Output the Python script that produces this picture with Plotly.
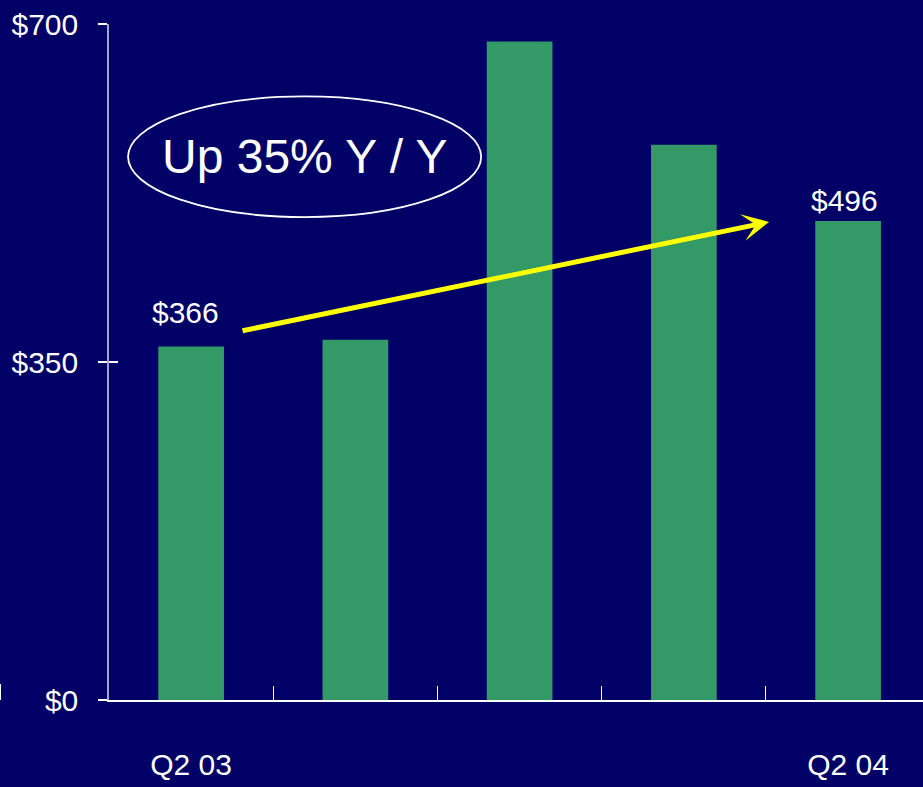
import plotly.graph_objects as go

# Quarterly revenue ($M)
quarters = ["Q2 03", "Q3 03", "Q4 03", "Q1 04", "Q2 04"]
revenue = [366, 373, 682, 575, 496]
shown_quarters = ["Q2 03", "", "", "", "Q2 04"]
value_labels = ["$366", "", "", "", "$496"]
y_tick_values = [0, 350, 700]
y_tick_text = ["$0", "$350", "$700"]
headline = "Up 35% Y / Y"

BG = "#000066"
BAR = "#339966"
NARROW = "Liberation Sans Narrow, Arial Narrow, Liberation Sans, Arial, sans-serif"
SANS = "Liberation Sans, Arial, sans-serif"
LABEL_SIZE = 30

xpos = list(range(len(quarters)))
boundaries = [i - 0.5 for i in range(len(quarters) + 1)]

fig = go.Figure()
fig.add_trace(go.Bar(x=xpos, y=revenue, width=0.4, marker=dict(color=BAR, line=dict(width=0)),
                     hovertext=quarters, showlegend=False))
# helper trace so the overlay axes get drawn
fig.add_trace(go.Scatter(x=[xpos[0]], y=[revenue[0]], xaxis="x2", yaxis="y2", mode="markers",
                         marker=dict(opacity=0), showlegend=False, hoverinfo="skip"))

x_range = [-0.5, 4.456]
fig.update_layout(
    width=923, height=787,
    margin=dict(l=109, r=0, t=24, b=87),
    paper_bgcolor=BG, plot_bgcolor=BG,
    font=dict(family=NARROW, color="white", size=LABEL_SIZE),
    xaxis=dict(range=x_range, tickmode="array", tickvals=boundaries, ticktext=[""] * len(boundaries),
               ticks="inside", ticklen=14, tickcolor="white", tickwidth=1, automargin=False,
               showline=True, linecolor="white", linewidth=2, showgrid=False, zeroline=False),
    xaxis2=dict(range=x_range, overlaying="x", anchor="y", side="bottom", matches="x",
                tickmode="array", tickvals=[xpos[0], xpos[-1]],
                ticktext=[shown_quarters[0], shown_quarters[-1]], automargin=False,
                ticks="", showline=False, showgrid=False, zeroline=False,
                tickfont=dict(family=NARROW, size=LABEL_SIZE, color="white"), ticklabelstandoff=44),
    yaxis=dict(range=[0, 700], tickmode="array", tickvals=y_tick_values, ticktext=y_tick_text,
               ticks="outside", ticklen=9, tickcolor="white", tickwidth=1.5, automargin=False,
               showline=True, linecolor="#a4a4cc", linewidth=1.5, showgrid=False, zeroline=False,
               tickfont=dict(family=NARROW, size=LABEL_SIZE, color="white"), ticklabelstandoff=14),
    yaxis2=dict(range=[0, 700], overlaying="y", anchor="x", side="left", matches="y",
                tickmode="array", tickvals=y_tick_values, ticks="inside", ticklen=9,
                tickcolor="white", tickwidth=1.5, showticklabels=False, automargin=False,
                showline=False, showgrid=False, zeroline=False),
)

# value labels over the first and last bars
label_offsets = {0: (-6, 34), 4: (-4, 21)}
for i, txt in enumerate(value_labels):
    if not txt:
        continue
    dx, dy = label_offsets[i]
    fig.add_annotation(x=xpos[i], y=revenue[i], text=txt, showarrow=False,
                       xanchor="center", yanchor="middle", xshift=dx, yshift=dy,
                       font=dict(family=NARROW, size=LABEL_SIZE, color="white"))

# growth arrow
fig.add_annotation(x=3.519, y=495, ax=0.304, ay=382, xref="x", yref="y", axref="x", ayref="y",
                   text="", showarrow=True, arrowhead=3, arrowwidth=5, arrowsize=0.9,
                   arrowcolor="#ffff00", standoff=0, startstandoff=0)

# headline in an ellipse
fig.add_shape(type="circle", xref="x", yref="y", x0=-0.384, x1=1.766, y0=500, y1=625,
              line=dict(color="white", width=1.8), fillcolor="rgba(0,0,0,0)")
fig.add_annotation(x=0.691, y=563, text=headline, showarrow=False, xanchor="center", yanchor="middle",
                   font=dict(family=SANS, size=48, color="white"))

# small leftover tick at the far left edge
fig.add_shape(type="line", xref="paper", yref="paper", x0=-108.5 / 814, x1=-108.5 / 814, y0=0, y1=16 / 676,
              line=dict(color="white", width=1))

fig.write_html("out.html")
